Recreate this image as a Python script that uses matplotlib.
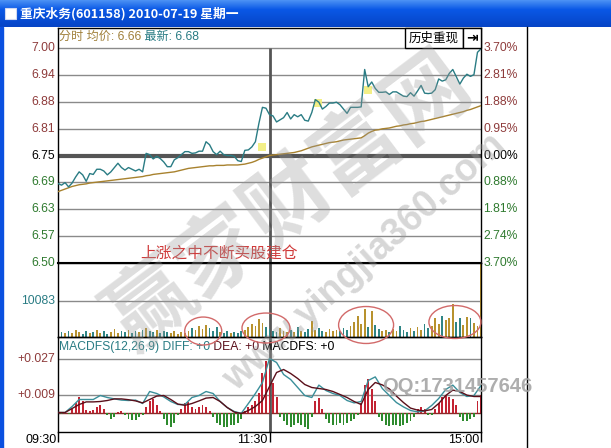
import numpy as np
import matplotlib
matplotlib.use('Agg')
import matplotlib.pyplot as plt
from matplotlib.patches import Rectangle, Ellipse

plt.rcParams['font.family'] = ['Liberation Sans', 'Noto Sans CJK SC', 'DejaVu Sans']

W, H = 611, 448

# minutes since 09:30 (lunch break removed), one sample every 2 minutes
minutes = np.arange(0, 241, 2)

price = [
    6.685, 6.681, 6.687, 6.677, 6.686, 6.700, 6.712, 6.705, 6.690, 6.708,
    6.706, 6.718, 6.718, 6.714, 6.705, 6.712, 6.722, 6.732, 6.722, 6.716,
    6.722, 6.718, 6.714, 6.718, 6.712, 6.755, 6.752, 6.742, 6.748, 6.743,
    6.735, 6.724, 6.724, 6.740, 6.745, 6.752, 6.759, 6.759, 6.755, 6.756,
    6.760, 6.760, 6.782, 6.775, 6.759, 6.752, 6.760, 6.752, 6.750, 6.750,
    6.748, 6.738, 6.736, 6.762, 6.763, 6.770, 6.782, 6.825, 6.862, 6.860,
    6.845, 6.842, 6.828, 6.833, 6.838, 6.850, 6.835, 6.845, 6.840, 6.845,
    6.832, 6.830, 6.850, 6.880, 6.874, 6.858, 6.864, 6.872, 6.872, 6.874,
    6.868, 6.858, 6.848, 6.862, 6.862, 6.862, 6.863, 6.950, 6.910, 6.921,
    6.906, 6.897, 6.897, 6.898, 6.892, 6.898, 6.898, 6.893, 6.888, 6.887,
    6.896, 6.888, 6.900, 6.913, 6.895, 6.894, 6.895, 6.903, 6.928, 6.923,
    6.926, 6.941, 6.950, 6.933, 6.916, 6.930, 6.939, 6.934, 6.938, 6.990,
    6.998,
]

avg_price = [
    6.666, 6.669, 6.672, 6.675, 6.678, 6.680, 6.682, 6.683, 6.684, 6.686,
    6.687, 6.688, 6.689, 6.690, 6.691, 6.692, 6.693, 6.694, 6.695, 6.696,
    6.697, 6.698, 6.699, 6.700, 6.701, 6.703, 6.704, 6.706, 6.707, 6.708,
    6.709, 6.710, 6.711, 6.712, 6.714, 6.716, 6.718, 6.720, 6.721, 6.722,
    6.723, 6.724, 6.725, 6.726, 6.726, 6.727, 6.727, 6.727, 6.728, 6.728,
    6.728, 6.728, 6.729, 6.730, 6.732, 6.734, 6.737, 6.741, 6.744, 6.747,
    6.750, 6.751, 6.752, 6.753, 6.754, 6.755, 6.756, 6.757, 6.759, 6.761,
    6.764, 6.767, 6.770, 6.772, 6.774, 6.776, 6.778, 6.780, 6.781, 6.782,
    6.784, 6.786, 6.787, 6.788, 6.789, 6.790, 6.791, 6.796, 6.802, 6.806,
    6.809, 6.810, 6.812, 6.813, 6.814, 6.816, 6.818, 6.819, 6.821, 6.822,
    6.824, 6.825, 6.827, 6.829, 6.830, 6.832, 6.834, 6.836, 6.838, 6.840,
    6.842, 6.844, 6.846, 6.848, 6.850, 6.852, 6.855, 6.857, 6.860, 6.863,
    6.866,
]

volume = [
    2020, 1150, 860, 1440, 860, 1730, 1150, 580, 1440, 860,
    1150, 1730, 860, 1440, 580, 1150, 2020, 860, 1440, 1150,
    1730, 860, 1440, 1150, 1730, 2300, 1440, 1150, 1730, 860,
    1440, 1150, 860, 1440, 580, 1150, 860, 1440, 2300, 1730,
    2880, 2020, 3170, 2300, 1440, 2590, 1150, 860, 1440, 860,
    1150, 860, 1440, 1730, 2590, 3460, 2880, 4900, 3740, 2590,
    2020, 1440, 1150, 2300, 1440, 1150, 1730, 1150, 2590, 1440,
    1150, 2020, 4320, 1730, 2300, 1440, 1150, 2020, 1440, 1730,
    1440, 2300, 1730, 2880, 4030, 5760, 3460, 7780, 2590, 7200,
    3170, 2020, 1440, 1730, 1150, 2020, 1440, 2880, 1730, 1150,
    2300, 1440, 2590, 1730, 3460, 2300, 2880, 5180, 3460, 5760,
    4610, 5180, 9220, 4030, 5180, 3170, 5470, 5180, 3740, 2880,
    21600,
]

macd_hist = [
    0.0, -0.0005, 0.0005, -0.0008, 0.002, 0.005, 0.008, 0.006, 0.0015, 0.001,
    0.0015, 0.003, 0.004, 0.002, -0.001, -0.003, -0.002, 0.0005, 0.0008, -0.001,
    -0.003, -0.0035, -0.0035, -0.002, -0.001, 0.003, 0.006, 0.007, 0.004, 0.001,
    -0.003, -0.006, -0.007, -0.005, -0.001, 0.002, 0.005, 0.0055, 0.003, 0.002,
    0.003, 0.004, 0.003, 0.001, -0.002, -0.005, -0.006, -0.007, -0.007, -0.006,
    -0.006, -0.005, -0.003, 0.001, 0.003, 0.004, 0.006, 0.010, 0.020, 0.026,
    0.022, 0.015, 0.008, -0.002, -0.004, -0.006, -0.007, -0.006, -0.005, -0.006,
    -0.007, -0.008, -0.002, 0.006, 0.0075, 0.002, -0.003, -0.005, -0.006, -0.006,
    -0.005, -0.006, -0.005, -0.004, -0.003, -0.001, 0.005, 0.014, 0.0167, 0.012,
    0.006, -0.002, -0.004, -0.006, -0.0067, -0.006, -0.006, -0.0065, -0.006, -0.005,
    -0.004, -0.002, 0.002, 0.003, 0.002, -0.001, -0.001, 0.002, 0.005, 0.008,
    0.009, 0.008, 0.007, 0.004, -0.002, -0.004, -0.004, -0.003, -0.002, 0.006,
    0.009,
]

# DIFF / DEA read every 4 minutes
macd_minutes = np.arange(0, 241, 4)
diff = [
    0.000, 0.000, 0.003, 0.0065, 0.0065, 0.0065, 0.0085, 0.0075, 0.0068, 0.0062,
    0.006, 0.0062, 0.0045, 0.0105, 0.0095, 0.0078, 0.0055, 0.004, 0.004, 0.0075,
    0.0085, 0.0105, 0.0095, 0.0055, 0.0025, 0.0005, -0.0004, 0.0045, 0.0095, 0.015,
    0.027, 0.025, 0.019, 0.0165, 0.0125, 0.0085, 0.0075, 0.0137, 0.011, 0.0095,
    0.0085, 0.006, 0.0048, 0.0055, 0.016, 0.0178, 0.012, 0.0085, 0.005, 0.0028,
    0.001, 0.0003, 0.0008, 0.0035, 0.007, 0.0115, 0.0137, 0.010, 0.008, 0.0085,
    0.0135,
]
dea = [
    0.000, 0.000, 0.002, 0.004, 0.0053, 0.0053, 0.0055, 0.006, 0.0068, 0.0068,
    0.0064, 0.0058, 0.0048, 0.0065, 0.0082, 0.0085, 0.0065, 0.0042, 0.0036, 0.0045,
    0.0058, 0.0072, 0.0075, 0.0055, 0.0025, 0.0002, -0.0005, 0.001, 0.003, 0.006,
    0.013, 0.020, 0.0215, 0.0195, 0.017, 0.014, 0.0125, 0.012, 0.0115, 0.0105,
    0.009, 0.0075, 0.0055, 0.004, 0.0115, 0.015, 0.0138, 0.0118, 0.0082, 0.005,
    0.0022, 0.0012, 0.0008, 0.0015, 0.0045, 0.0085, 0.0112, 0.0105, 0.0087, 0.008,
    0.008,
]

price_labels = ['7.00', '6.94', '6.88', '6.81', '6.75', '6.69', '6.63', '6.57', '6.50']
pct_labels = ['3.70%', '2.81%', '1.88%', '0.95%', '0.00%', '0.88%', '1.81%', '2.74%', '3.70%']
time_ticks = [0, 120, 240]
time_labels = ['09:30', '11:30', '15:00']

# yellow cursor marks and circled volume clusters
mark_minutes = [115.7, 147.5, 175.9]
mark_prices = [6.770, 6.872, 6.902]
circle_minutes = [82.4, 118.0, 174.8, 225.2]
circle_volumes = [1560, 2410, 3270, 4120]
circle_widths = [21.0, 27.2, 31.2, 29.5]
circle_heights = [7950, 8520, 10510, 9370]

RED_TXT = '#8e3b3b'
GREEN_TXT = '#2f7a2f'
TEAL = '#2a7c84'
GOLD = '#a8822e'
GRID = '#8a8a8a'
MID = '#555555'
FS = 8.7


def px_axes(fig, x0, y0, x1, y1):
    ax = fig.add_axes([x0 / W, 1 - y1 / H, (x1 - x0) / W, (y1 - y0) / H])
    ax.patch.set_alpha(0)
    for s in ax.spines.values():
        s.set_color('black')
        s.set_linewidth(1)
    ax.set_xticks([])
    ax.set_yticks([])
    ax.set_xlim(0, 240)
    return ax


fig = plt.figure(figsize=(W / 100, H / 100), dpi=100, facecolor='white')

# ---------------- price panel ----------------
ax = px_axes(fig, 58, 28, 481, 263)
ax.set_ylim(6.5, 6.5 + 235 / 430)
ax.spines['bottom'].set_linewidth(1.5)
levels = np.linspace(7.0, 6.5, 9)
ylab = ax.get_yaxis_transform()
for k, (lvl, lab, pct) in enumerate(zip(levels, price_labels, pct_labels)):
    col = RED_TXT if k < 4 else ('black' if k == 4 else GREEN_TXT)
    if k == 4:
        ax.axhline(lvl, color=MID, lw=3, zorder=1)
    elif k < 8:
        ax.axhline(lvl, color=GRID, lw=1, zorder=1)
    ax.text(-0.007, lvl, lab, transform=ylab, ha='right', va='center',
            color=col, fontsize=FS, clip_on=False)
    ax.text(1.006, lvl, pct, transform=ylab, ha='left', va='center',
            color=col, fontsize=FS, clip_on=False)
ax.vlines(120, 6.5, 7.0, color=MID, lw=2, zorder=1)
ax.scatter(mark_minutes, mark_prices, marker='s', s=40, color='#f2ee7a',
           alpha=0.9, zorder=2, linewidths=0)
ax.plot(minutes, avg_price, color=GOLD, lw=1, zorder=3)
ax.plot(minutes, price, color=TEAL, lw=1, zorder=4)

t1 = ax.text(0.5, 7.0256, '分时 均价: 6.66', color='#a0803a', fontsize=FS,
             ha='left', va='center')
ax.annotate(' 最新: 6.68', xy=(1, 0.5), xycoords=t1, color=TEAL, fontsize=FS,
            ha='left', va='center')
ax.text(46.5, 6.523, '上涨之中不断买股建仓', color='#d03a3a', fontsize=11.3,
        ha='left', va='center', family=['Noto Sans CJK SC'])

# ---------------- volume panel ----------------
vol = px_axes(fig, 58, 263, 481, 336.5)
vol.set_ylim(0, 20900)
vol.axhline(10083, color=GRID, lw=1, zorder=1)
vol.axvline(120, color=MID, lw=2, zorder=1)
vol_colors = ['#b8922e' if k == 0 or price[k] >= price[k - 1] else '#2f8585'
              for k in range(len(price))]
vol.bar(minutes, volume, width=1.0, color=vol_colors, zorder=2)
vol.text(-0.007, 10083, '10083', transform=vol.get_yaxis_transform(),
         ha='right', va='center', color=TEAL, fontsize=FS)

# ---------------- MACD panel ----------------
md = px_axes(fig, 58, 336.5, 481, 432)
md.set_ylim(-0.00975, 0.038)
md.axhline(0.027, color=GRID, lw=1, zorder=1)
md.axhline(0.009, color=GRID, lw=1, zorder=1)
md.axhline(0, color='#8b2a2a', lw=1, zorder=1)
md.axvline(120, color=MID, lw=2, zorder=1)
hist_colors = ['#c22333' if v >= 0 else '#2e8b2e' for v in macd_hist]
md.bar(minutes, macd_hist, width=1.1, color=hist_colors, zorder=2)
md.plot(macd_minutes, diff, color='#3a8f9a', lw=1, zorder=3)
md.plot(macd_minutes, dea, color='#5a0f1a', lw=1, zorder=3)
for v, lab in [(0.027, '+0.027'), (0.009, '+0.009')]:
    md.text(-0.007, v, lab, transform=md.get_yaxis_transform(), ha='right',
            va='center', color=RED_TXT, fontsize=FS)
m1 = md.text(0.5, 0.03275, 'MACDFS(12,26,9) DIFF: +0', color=TEAL, fontsize=FS,
             ha='left', va='center')
m2 = md.annotate(' DEA: +0', xy=(1, 0.5), xycoords=m1, color='#5a0f1a',
                 fontsize=FS, ha='left', va='center')
md.annotate(' MACDFS: +0', xy=(1, 0.5), xycoords=m2, color='black',
            fontsize=FS, ha='left', va='center')
md.set_xticks(time_ticks)
md.set_xticklabels([])
md.tick_params(axis='x', length=7, direction='out', color='black', width=1)
xlab = md.get_xaxis_transform()
for t, lab in zip(time_ticks, time_labels):
    md.text(t - 0.9, -0.085, lab, transform=xlab, ha='right', va='center',
            fontsize=9, color='black', clip_on=False)

# ---------------- window decoration / overlay ----------------
ov = fig.add_axes([0, 0, 1, 1], zorder=10)
ov.patch.set_alpha(0)
ov.axis('off')

top = np.array([0x4a, 0x90, 0xf4]) / 255
midc = np.array([0x0a, 0x58, 0xe6]) / 255
bot = np.array([0x06, 0x44, 0xc6]) / 255
rows = []
for f in np.linspace(0, 1, 27):
    c = top + (midc - top) * f / 0.35 if f < 0.35 else midc + (bot - midc) * (f - 0.35) / 0.65
    rows.append(c)
ov.imshow(np.array(rows)[:, None, :], extent=(0, W, 27, 0), aspect='auto', zorder=1)
ov.set_xlim(0, W)
ov.set_ylim(H, 0)
ov.add_patch(Rectangle((0, 27), 3, H - 27, color='#0a50e0', zorder=1))
ov.add_patch(Rectangle((5, 8), 11, 11, facecolor='white', edgecolor='#d0d8f0', lw=0.8, zorder=2))
ov.text(20, 14, '重庆水务(601158) 2010-07-19 星期一', color='white', fontsize=9.2,
        fontweight='bold', ha='left', va='center', family=['Noto Sans CJK SC'], zorder=3)
ov.plot([527, 527], [27, H], color='black', lw=1, zorder=2)

# history replay button
ov.add_patch(Rectangle((405, 28), 58, 20, facecolor='white', edgecolor='black', lw=1, zorder=2))
ov.add_patch(Rectangle((463, 28), 18, 20, facecolor='white', edgecolor='black', lw=1, zorder=2))
ov.text(434, 38.5, '历史重现', fontsize=9, ha='center', va='center',
        family=['Noto Sans CJK SC'], zorder=3)
ov.text(472, 38, '⇥', fontsize=10, fontweight='bold', ha='center', va='center',
        family=['DejaVu Sans'], zorder=3)

# circled volume clusters
for cx, cy, cw, ch in zip(circle_minutes, circle_volumes, circle_widths, circle_heights):
    ov.add_patch(Ellipse((cx, cy), cw, ch, transform=vol.transData, fill=False,
                         edgecolor='#d26a6a', lw=1, clip_on=False, zorder=5))

# watermark
ov.text(290, 202, '赢家财富网', fontsize=62, fontweight='bold', color='#9a9a9a',
        alpha=0.33, rotation=37, ha='center', va='center', rotation_mode='anchor',
        family=['Noto Sans CJK SC'], zorder=4)
ov.text(365, 262, 'www.yingjia360.com', fontsize=27, fontweight='bold', color='#9a9a9a',
        alpha=0.4, rotation=42, ha='center', va='center', rotation_mode='anchor', zorder=4)
ov.text(457, 387, 'QQ:1731457646', fontsize=14.5, fontweight='bold', color='#a0a0a0',
        alpha=0.85, ha='center', va='center', zorder=4)

fig.savefig('out.png', dpi=100, facecolor='white')
